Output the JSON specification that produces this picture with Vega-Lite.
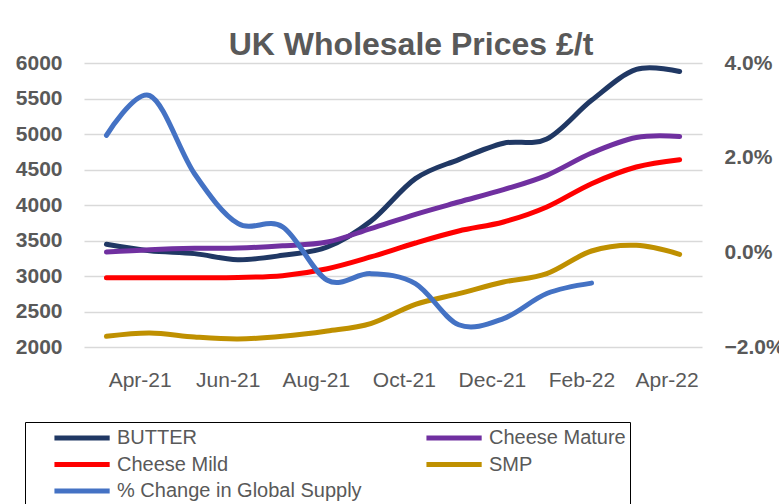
{
  "$schema": "https://vega.github.io/schema/vega-lite/v6.json",
  "width": 618,
  "height": 284,
  "autosize": "none",
  "padding": {"left": 84, "top": 63, "right": 77, "bottom": 157},
  "background": "white",
  "config": {"view": {"stroke": null}, "font": "Liberation Sans"},
  "title": {"text": "UK Wholesale Prices £/t", "fontSize": 32, "fontWeight": "bold", "color": "#595959", "anchor": "middle", "dx": 18, "offset": -10, "font": "Liberation Sans"},
  "datasets": {
    "prices": [
      {"date": "2021-03-09", "series": "BUTTER", "price": 3446},
      {"date": "2021-04-08", "series": "BUTTER", "price": 3354},
      {"date": "2021-05-09", "series": "BUTTER", "price": 3315},
      {"date": "2021-06-08", "series": "BUTTER", "price": 3230},
      {"date": "2021-07-09", "series": "BUTTER", "price": 3291},
      {"date": "2021-08-09", "series": "BUTTER", "price": 3408},
      {"date": "2021-09-08", "series": "BUTTER", "price": 3770},
      {"date": "2021-10-09", "series": "BUTTER", "price": 4371},
      {"date": "2021-11-08", "series": "BUTTER", "price": 4640},
      {"date": "2021-12-09", "series": "BUTTER", "price": 4870},
      {"date": "2022-01-08", "series": "BUTTER", "price": 4930},
      {"date": "2022-02-08", "series": "BUTTER", "price": 5474},
      {"date": "2022-03-11", "series": "BUTTER", "price": 5910},
      {"date": "2022-04-10", "series": "BUTTER", "price": 5880},
      {"date": "2021-03-09", "series": "Cheese Mature", "price": 3338},
      {"date": "2021-04-08", "series": "Cheese Mature", "price": 3371},
      {"date": "2021-05-09", "series": "Cheese Mature", "price": 3390},
      {"date": "2021-06-08", "series": "Cheese Mature", "price": 3394},
      {"date": "2021-07-09", "series": "Cheese Mature", "price": 3425},
      {"date": "2021-08-09", "series": "Cheese Mature", "price": 3479},
      {"date": "2021-09-08", "series": "Cheese Mature", "price": 3667},
      {"date": "2021-10-09", "series": "Cheese Mature", "price": 3869},
      {"date": "2021-11-08", "series": "Cheese Mature", "price": 4042},
      {"date": "2021-12-09", "series": "Cheese Mature", "price": 4216},
      {"date": "2022-01-08", "series": "Cheese Mature", "price": 4418},
      {"date": "2022-02-08", "series": "Cheese Mature", "price": 4732},
      {"date": "2022-03-11", "series": "Cheese Mature", "price": 4950},
      {"date": "2022-04-10", "series": "Cheese Mature", "price": 4965},
      {"date": "2021-03-09", "series": "Cheese Mild", "price": 2977},
      {"date": "2021-04-08", "series": "Cheese Mild", "price": 2977},
      {"date": "2021-05-09", "series": "Cheese Mild", "price": 2977},
      {"date": "2021-06-08", "series": "Cheese Mild", "price": 2980},
      {"date": "2021-07-09", "series": "Cheese Mild", "price": 3005},
      {"date": "2021-08-09", "series": "Cheese Mild", "price": 3103},
      {"date": "2021-09-08", "series": "Cheese Mild", "price": 3268},
      {"date": "2021-10-09", "series": "Cheese Mild", "price": 3465},
      {"date": "2021-11-08", "series": "Cheese Mild", "price": 3634},
      {"date": "2021-12-09", "series": "Cheese Mild", "price": 3761},
      {"date": "2022-01-08", "series": "Cheese Mild", "price": 3972},
      {"date": "2022-02-08", "series": "Cheese Mild", "price": 4300},
      {"date": "2022-03-11", "series": "Cheese Mild", "price": 4535},
      {"date": "2022-04-10", "series": "Cheese Mild", "price": 4638},
      {"date": "2021-03-09", "series": "SMP", "price": 2150},
      {"date": "2021-04-08", "series": "SMP", "price": 2197},
      {"date": "2021-05-09", "series": "SMP", "price": 2141},
      {"date": "2021-06-08", "series": "SMP", "price": 2113},
      {"date": "2021-07-09", "series": "SMP", "price": 2150},
      {"date": "2021-08-09", "series": "SMP", "price": 2225},
      {"date": "2021-09-08", "series": "SMP", "price": 2329},
      {"date": "2021-10-09", "series": "SMP", "price": 2600},
      {"date": "2021-11-08", "series": "SMP", "price": 2751},
      {"date": "2021-12-09", "series": "SMP", "price": 2915},
      {"date": "2022-01-08", "series": "SMP", "price": 3033},
      {"date": "2022-02-08", "series": "SMP", "price": 3352},
      {"date": "2022-03-11", "series": "SMP", "price": 3432},
      {"date": "2022-04-10", "series": "SMP", "price": 3305}
    ],
    "supply": [
      {"date": "2021-03-09", "series": "% Change in Global Supply", "change": 0.0247},
      {"date": "2021-04-08", "series": "% Change in Global Supply", "change": 0.0331},
      {"date": "2021-05-09", "series": "% Change in Global Supply", "change": 0.0166},
      {"date": "2021-06-08", "series": "% Change in Global Supply", "change": 0.0061},
      {"date": "2021-07-09", "series": "% Change in Global Supply", "change": 0.0054},
      {"date": "2021-08-09", "series": "% Change in Global Supply", "change": -0.0059},
      {"date": "2021-09-08", "series": "% Change in Global Supply", "change": -0.0045},
      {"date": "2021-10-09", "series": "% Change in Global Supply", "change": -0.0066},
      {"date": "2021-11-08", "series": "% Change in Global Supply", "change": -0.0153},
      {"date": "2021-12-09", "series": "% Change in Global Supply", "change": -0.0140},
      {"date": "2022-01-08", "series": "% Change in Global Supply", "change": -0.0087},
      {"date": "2022-02-08", "series": "% Change in Global Supply", "change": -0.0065}
    ]
  },
  "encoding": {
    "x": {
      "field": "date", "type": "temporal",
      "scale": {"type": "utc", "domain": [{"year": 2021, "month": 2, "date": 21, "hours": 11, "utc": true}, {"year": 2022, "month": 4, "date": 25, "hours": 12, "utc": true}]},
      "axis": {
        "title": null,
        "labelExpr": "utcFormat(datum.value, '%b-%y')",
        "values": [
          {"year": 2021, "month": 4, "date": 1, "utc": true},
          {"year": 2021, "month": 6, "date": 1, "utc": true},
          {"year": 2021, "month": 8, "date": 1, "utc": true},
          {"year": 2021, "month": 10, "date": 1, "utc": true},
          {"year": 2021, "month": 12, "date": 1, "utc": true},
          {"year": 2022, "month": 2, "date": 1, "utc": true},
          {"year": 2022, "month": 4, "date": 1, "utc": true}
        ],
        "grid": false, "domain": false, "ticks": false,
        "labelFontSize": 21, "labelColor": "#595959", "labelPadding": 22,
        "labelFlush": false, "labelOverlap": false
      }
    },
    "color": {
      "field": "series", "type": "nominal",
      "scale": {
        "domain": ["BUTTER", "Cheese Mature", "Cheese Mild", "SMP", "% Change in Global Supply"],
        "range": ["#203864", "#7030A0", "#FF0000", "#BF9000", "#4472C4"]
      },
      "legend": {
        "orient": "none", "legendX": -59, "legendY": 359,
        "direction": "horizontal", "columns": 2, "gridAlign": "all", "columnPadding": 39, "rowPadding": 4.5,
        "symbolType": "M1.46,0H7.46", "symbolSize": 339, "symbolStrokeWidth": 5,
        "labelFontSize": 20, "labelColor": "#595959", "labelLimit": 400, "labelOffset": 64,
        "strokeColor": "black", "padding": 4,
        "title": null
      }
    }
  },
  "layer": [
    {
      "data": {"name": "prices"},
      "mark": {"type": "line", "interpolate": "cardinal", "strokeWidth": 5, "strokeCap": "round", "strokeJoin": "round"},
      "encoding": {
        "y": {
          "field": "price", "type": "quantitative",
          "scale": {"domain": [2000, 6000], "nice": false, "zero": false},
          "axis": {
            "title": null, "values": [2000, 2500, 3000, 3500, 4000, 4500, 5000, 5500, 6000],
            "grid": true, "gridColor": "#D9D9D9", "gridWidth": 1.5,
            "domain": false, "ticks": false, "format": "d",
            "labelFontSize": 21, "labelFontWeight": "bold", "labelColor": "#595959", "labelPadding": 22
          }
        }
      }
    },
    {
      "data": {"name": "supply"},
      "mark": {"type": "line", "interpolate": "cardinal", "strokeWidth": 5, "strokeCap": "round", "strokeJoin": "round"},
      "encoding": {
        "y": {
          "field": "change", "type": "quantitative",
          "scale": {"domain": [-0.02, 0.04], "nice": false, "zero": false},
          "axis": {
            "orient": "right", "title": null, "values": [-0.02, 0, 0.02, 0.04], "format": ".1%",
            "grid": false, "domain": false, "ticks": false,
            "labelFontSize": 21, "labelFontWeight": "bold", "labelColor": "#595959", "labelPadding": 22
          }
        }
      }
    }
  ],
  "resolve": {"scale": {"y": "independent"}, "axis": {"y": "independent"}}
}
